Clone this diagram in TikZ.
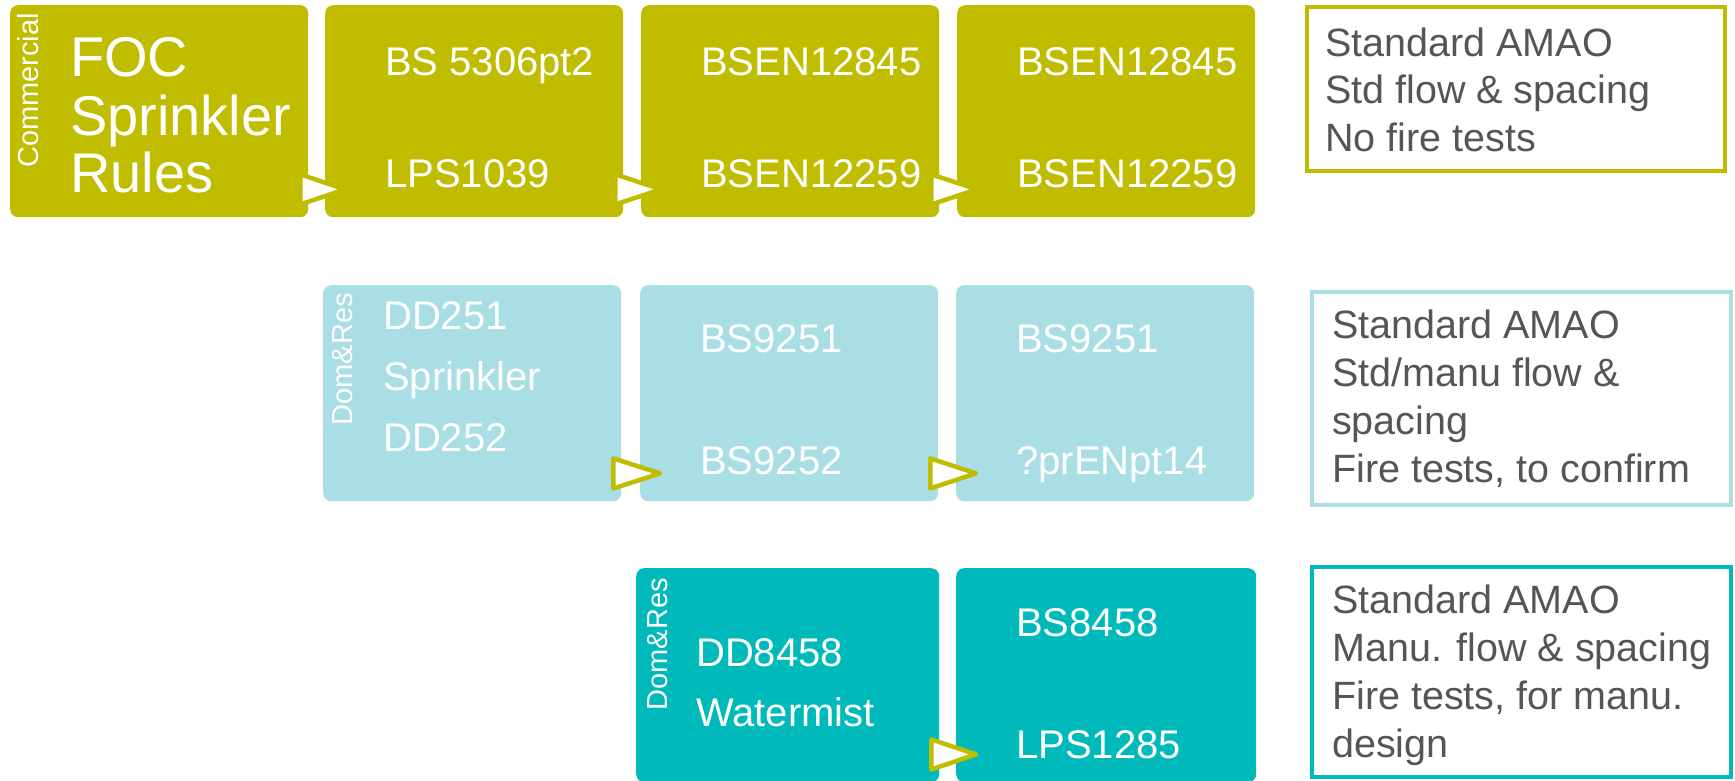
\documentclass[tikz,border=0pt]{standalone}
\usepackage{fontspec}
\setmainfont{Liberation Sans}
\usepackage{tikz}
\usetikzlibrary{positioning,calc}
\definecolor{oliva}{HTML}{C0BC00}
\definecolor{celeste}{HTML}{AADEE5}
\definecolor{turquesa}{HTML}{00B9BA}
\definecolor{gris}{HTML}{555555}

\begin{document}
\begin{tikzpicture}[x=1pt,y=-1pt,
  caja/.style={rounded corners=8pt,minimum width=298pt,minimum height=212pt,inner sep=0pt,anchor=north west},
  texto/.style={text=white,align=left,inner sep=0pt,anchor=base west,font=\fontsize{40}{122}\selectfont},
  lateral/.style={text=white,rotate=90,inner sep=0pt,anchor=base east,font=\fontsize{29}{34}\selectfont},
  nota/.style={draw,line width=4pt,minimum width=419pt,inner sep=0pt,anchor=north west},
  notatexto/.style={text=gris,align=left,inner sep=0pt,anchor=base west,font=\fontsize{39.5}{48}\selectfont},
  flecha/.style={draw=oliva,fill=white,line width=4.5pt,line join=round}]
\useasboundingbox (0,0) rectangle (1735,781);
\clip (0,0) rectangle (1735,781);
% fila comercial
\node[caja,fill=oliva] (foc) at (10,5) {};
\foreach \n/\x in {bsa/325, bsb/641, bsc/957}
  \node[caja,fill=oliva] (\n) at (\x,5) {};
% fila dom&res rociadores
\foreach \n/\x in {dd/323, bsd/640, bse/956}
  \node[caja,fill=celeste,minimum height=216pt] (\n) at (\x,285) {};
% fila dom&res agua nebulizada
\node[caja,fill=turquesa,minimum width=303pt,minimum height=214pt] (wm) at (636,568) {};
\node[caja,fill=turquesa,minimum width=300pt,minimum height=214pt] (bsw) at (956,568) {};
% flechas
\foreach \a/\b in {foc/bsa, bsa/bsb, bsb/bsc, dd/bsd, bsd/bse, wm/bsw}
  \draw[flecha] ($(\a.south east)+(-8,-43)$) -- ($(\b.south west)+(20,-28)$) -- ($(\a.south east)+(-8,-13)$) -- cycle;
% textos (el ancla base es la ultima linea)
\node[lateral] (focL) at ($(foc.north west)+(28,8)$) {Commercial};
\node[texto,font=\fontsize{56}{58}\selectfont] (focT) at ($(foc.north west)+(60,188)$) {FOC\\Sprinkler\\Rules};
\node[texto,font=\fontsize{40}{112}\selectfont] (bsaT) at ($(bsa.north west)+(60,182)$) {BS 5306pt2\\LPS1039};
\node[texto,font=\fontsize{40}{112}\selectfont] (bsbT) at ($(bsb.north west)+(60,182)$) {BSEN12845\\BSEN12259};
\node[texto,font=\fontsize{40}{112}\selectfont] (bscT) at ($(bsc.north west)+(60,182)$) {BSEN12845\\BSEN12259};
\node[lateral] (ddL) at ($(dd.north west)+(29,8)$) {Dom\&Res};
\node[texto,font=\fontsize{40}{61}\selectfont] (ddT) at ($(dd.north west)+(60,166)$) {DD251\\Sprinkler\\DD252};
\node[texto] (bsdT) at ($(bsd.north west)+(60,189)$) {BS9251\\BS9252};
\node[texto] (bseT) at ($(bse.north west)+(60,189)$) {BS9251\\?prENpt14};
\node[lateral] (wmL) at ($(wm.north west)+(31,10)$) {Dom\&Res};
\node[texto,font=\fontsize{40}{60}\selectfont] (wmT) at ($(wm.north west)+(60,158)$) {DD8458\\Watermist};
\node[texto] (bswT) at ($(bsw.north west)+(60,190)$) {BS8458\\LPS1285};
% notas
\node[nota,draw=oliva,minimum width=418pt,minimum height=164pt] (n1) at (1305,5) {};
\node[nota,draw=celeste,minimum height=213pt] (n2) at (1310,290) {};
\node[nota,draw=turquesa,minimum height=210pt] (n3) at (1310,565) {};
\node[notatexto] (n1T) at ($(n1.north west)+(20,147)$) {Standard AMAO\\Std flow \& spacing\\No fire tests};
\node[notatexto] (n2T) at ($(n2.north west)+(22,192)$) {Standard AMAO\\Std/manu flow \&\\spacing\\Fire tests, to confirm};
\node[notatexto] (n3T) at ($(n3.north west)+(22,192)$) {Standard AMAO\\Manu. flow \& spacing\\Fire tests, for manu.\\design};
\end{tikzpicture}
\end{document}
